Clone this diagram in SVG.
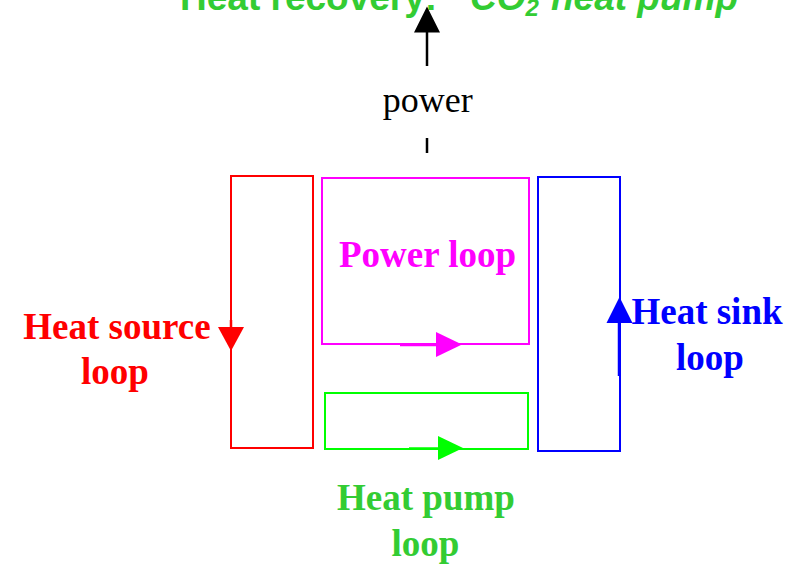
<svg xmlns="http://www.w3.org/2000/svg" width="794" height="564" viewBox="0 0 794 564">
<style>
.title{font-family:"Liberation Sans",Arial,sans-serif;font-weight:bold;font-size:37px;fill:#33CC33}
.lbl{font-family:"Liberation Serif","Times New Roman",serif;font-weight:bold;font-size:37px;text-anchor:middle}
.box{fill:none;stroke-width:2}
.flow{stroke-width:2.5;fill:none}
</style>
<rect width="794" height="564" fill="#ffffff"/>
<g id="title">
<text class="title" x="180" y="10">Heat recovery:</text>
<text class="title" x="470" y="10" font-style="italic">CO<tspan font-size="24" dy="6">2</tspan><tspan x="551" dy="-6">heat pump</tspan></text>
</g>
<g id="heat-source-loop">
<rect class="box" x="231" y="176" width="82" height="272" stroke="#FF0000"/>
<text class="lbl" x="117" y="339" fill="#FF0000">Heat source</text>
<text class="lbl" x="115" y="384" fill="#FF0000">loop</text>
</g>
<g id="power-loop">
<rect class="box" x="322" y="178" width="207" height="166" stroke="#FF00FF"/>
<text class="lbl" x="427.5" y="267" fill="#FF00FF">Power loop</text>
</g>
<g id="heat-pump-loop">
<rect class="box" x="325" y="393" width="203" height="56" stroke="#00FF00"/>
<text class="lbl" x="426" y="510" fill="#33CC33">Heat pump</text>
<text class="lbl" x="425.5" y="556" fill="#33CC33">loop</text>
</g>
<g id="heat-sink-loop">
<rect class="box" x="538" y="177" width="82" height="274" stroke="#0000FF"/>
<text class="lbl" x="707" y="324" fill="#0000FF">Heat sink</text>
<text class="lbl" x="710" y="370" fill="#0000FF">loop</text>
</g>
<g id="power-label">
<text x="427.7" y="111.5" font-family="'Liberation Serif','Times New Roman',serif" font-size="36" text-anchor="middle" fill="#000000">power</text>
</g>
<g id="connectors">
<line class="flow" x1="231" y1="320" x2="231" y2="330" stroke="#FF0000"/>
<polygon points="218,327 244,327 231,351" fill="#FF0000"/>
<line class="flow" x1="400" y1="345" x2="440" y2="345" stroke="#FF00FF"/>
<polygon points="436,332 436,357 462,344.5" fill="#FF00FF"/>
<line class="flow" x1="409" y1="448.5" x2="440" y2="448.5" stroke="#00FF00"/>
<polygon points="438,436 438,460 463,448" fill="#00FF00"/>
<line class="flow" x1="619" y1="376" x2="619" y2="320" stroke="#0000FF"/>
<polygon points="606.5,323 632.5,323 619.5,297" fill="#0000FF"/>
<line x1="427" y1="138" x2="427" y2="153" stroke="#000000" stroke-width="2.5"/>
<line x1="427" y1="66" x2="427" y2="30" stroke="#000000" stroke-width="2.5"/>
<polygon points="414,32.5 440,32.5 427,6.5" fill="#000000"/>
</g>
</svg>
